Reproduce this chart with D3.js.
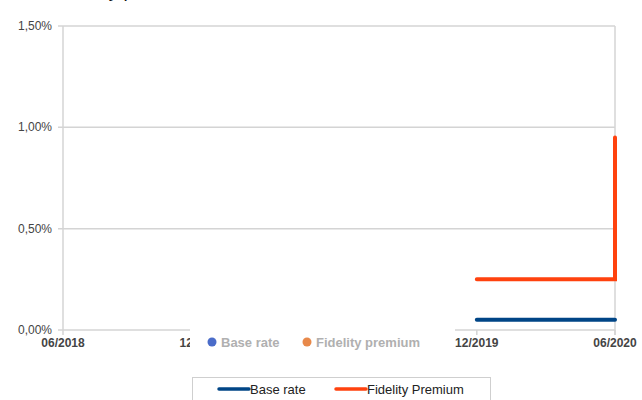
<!DOCTYPE html>
<html>
<head>
<meta charset="utf-8">
<script src="https://cdn.jsdelivr.net/npm/d3@7"></script>
<style>
  body { margin: 0; background: #fff; }
  svg { display: block; font-family: "Liberation Sans", Arial, sans-serif; }
</style>
</head>
<body>
<div class="chart-container"></div>
<script>
const svgWidth = 642;
const svgHeight = 400;

// data
const months = ["2019-12", "2020-06"];
const baseRate = [0.05, 0.05];
const fidelityPremium = [0.25, 0.25];
const fidelityJump = 0.95;          // step up at the last month
const xTicks = ["2018-06", "2018-12", "2019-06", "2019-12", "2020-06"];
const xLabels = ["2018-06", "2018-12", "2019-12", "2020-06"]; // 06/2019 is hidden under the legend
const yTicks = [0, 0.5, 1.0, 1.5];
const seriesNames = ["Base rate", "Fidelity premium"];
const legendNames = ["Base rate", "Fidelity Premium"];
const colors = ["#004586", "#ff420e"];
const dotColors = ["#4a6cc9", "#e8894a"];

const parseMonth = d3.timeParse("%Y-%m");
const fmtMonth = d3.timeFormat("%m/%Y");

const svg = d3.select(".chart-container")
  .append("svg")
  .attr("width", svgWidth)
  .attr("height", svgHeight);

const x = d3.scaleTime()
  .domain([parseMonth(xTicks[0]), parseMonth(xTicks[xTicks.length - 1])])
  .range([63, 615]);

const y = d3.scaleLinear()
  .domain([0, 1.5])
  .range([330, 26]);

// title, cut off at the top so only descenders show
svg.append("text")
  .attr("x", 58)
  .attr("y", -3)
  .style("font-size", "19px")
  .style("fill", "#111")
  .text("Fidelity premium");

// gridlines
svg.append("g")
  .selectAll("line")
  .data(yTicks)
  .enter().append("line")
  .attr("x1", 58)
  .attr("x2", 615)
  .attr("y1", d => y(d))
  .attr("y2", d => y(d))
  .style("stroke", "#d4d4d4")
  .style("stroke-width", 1.5);

// left and right borders
svg.append("line")
  .attr("x1", 63).attr("x2", 63)
  .attr("y1", y(1.5)).attr("y2", y(0))
  .style("stroke", "#d4d4d4").style("stroke-width", 1.5);
svg.append("line")
  .attr("x1", 615).attr("x2", 615)
  .attr("y1", y(1.5)).attr("y2", y(0) + 5)
  .style("stroke", "#d4d4d4").style("stroke-width", 1.5);

// x tick marks
svg.append("g")
  .selectAll("line")
  .data(xTicks)
  .enter().append("line")
  .attr("x1", d => x(parseMonth(d)))
  .attr("x2", d => x(parseMonth(d)))
  .attr("y1", y(0))
  .attr("y2", y(0) + 5)
  .style("stroke", "#d4d4d4")
  .style("stroke-width", 1.5);

// y labels
svg.append("g")
  .selectAll("text")
  .data(yTicks)
  .enter().append("text")
  .attr("x", 52)
  .attr("y", d => y(d) + 4)
  .attr("text-anchor", "end")
  .style("font-size", "12px")
  .style("fill", "#444")
  .text(d => d.toFixed(2).replace(".", ",") + "%");

// x labels (the one under the overlay is clipped)
svg.append("clipPath")
  .attr("id", "xclip")
  .append("rect")
  .attr("x", 0).attr("y", 300)
  .attr("width", 190).attr("height", 100);
svg.append("clipPath")
  .attr("id", "xclip2")
  .append("rect")
  .attr("x", 455).attr("y", 300)
  .attr("width", 200).attr("height", 100);

svg.append("g")
  .selectAll("text")
  .data(xLabels)
  .enter().append("text")
  .attr("x", d => x(parseMonth(d)))
  .attr("y", 347)
  .attr("text-anchor", "middle")
  .attr("clip-path", d => x(parseMonth(d)) < 300 ? "url(#xclip)" : "url(#xclip2)")
  .style("font-size", "12px")
  .style("font-weight", "bold")
  .style("fill", "#444")
  .text(d => fmtMonth(parseMonth(d)));

// series
const line = d3.line().x(d => x(d[0])).y(d => y(d[1]));

const baseData = months.map((m, i) => [parseMonth(m), baseRate[i]]);
const fidData = months.map((m, i) => [parseMonth(m), fidelityPremium[i]]);
fidData.push([parseMonth(months[months.length - 1]), fidelityJump]);

[baseData, fidData].forEach((data, i) => {
  svg.append("path")
    .datum(data)
    .attr("d", line)
    .style("fill", "none")
    .style("stroke", colors[i])
    .style("stroke-width", 4)
    .style("stroke-linecap", "round");
});

// overlaid legend that hides part of the axis
const over = svg.append("g");
over.append("rect")
  .attr("x", 190).attr("y", 327)
  .attr("width", 265).attr("height", 32)
  .style("fill", "#fff");
const overX = [212, 307];
seriesNames.forEach((name, i) => {
  over.append("circle")
    .attr("cx", overX[i]).attr("cy", 342).attr("r", 4.5)
    .style("fill", dotColors[i]);
  over.append("text")
    .attr("x", overX[i] + 9).attr("y", 347)
    .style("font-size", "13px")
    .style("font-weight", "bold")
    .style("fill", "#b0b0b0")
    .text(name);
});

// bottom legend
const leg = svg.append("g");
leg.append("rect")
  .attr("x", 192.5).attr("y", 377.5)
  .attr("width", 298).attr("height", 40)
  .style("fill", "#fff")
  .style("stroke", "#cfcfcf");
const legX = [219, 336];
legendNames.forEach((name, i) => {
  leg.append("line")
    .attr("x1", legX[i]).attr("x2", legX[i] + 30)
    .attr("y1", 389).attr("y2", 389)
    .style("stroke", colors[i])
    .style("stroke-width", 3.5)
    .style("stroke-linecap", "round");
  leg.append("text")
    .attr("x", legX[i] + 31).attr("y", 394)
    .style("font-size", "13px")
    .style("fill", "#222")
    .text(name);
});
</script>
</body>
</html>
